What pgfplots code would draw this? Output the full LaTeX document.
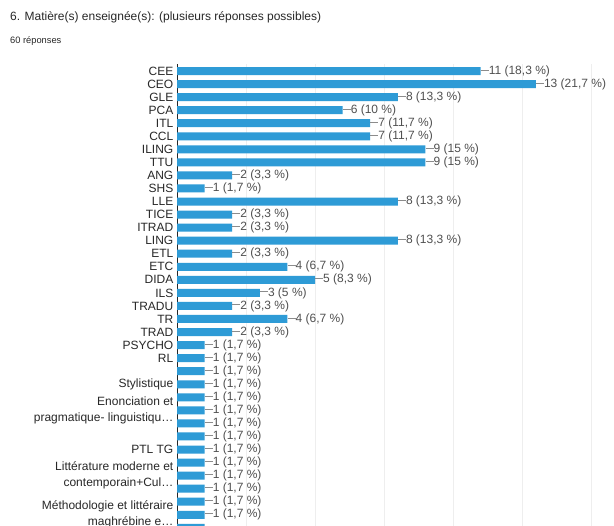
\documentclass[border=0pt]{standalone}
\usepackage{pgfplots}
\pgfplotsset{compat=1.18}
\usepackage{pgfplotstable}
\usepackage{fontspec}
\setmainfont{Liberation Sans}
\definecolor{barblue}{RGB}{46,155,214}
\definecolor{txt}{RGB}{40,40,40}
\definecolor{vlab}{RGB}{80,80,80}
\definecolor{gridc}{RGB}{238,238,238}

\pgfplotstableread[col sep=semicolon]{
idx;val;lab
0;11;11 (18,3 \%)
1;13;13 (21,7 \%)
2;8;8 (13,3 \%)
3;6;6 (10 \%)
4;7;7 (11,7 \%)
5;7;7 (11,7 \%)
6;9;9 (15 \%)
7;9;9 (15 \%)
8;2;2 (3,3 \%)
9;1;1 (1,7 \%)
10;8;8 (13,3 \%)
11;2;2 (3,3 \%)
12;2;2 (3,3 \%)
13;8;8 (13,3 \%)
14;2;2 (3,3 \%)
15;4;4 (6,7 \%)
16;5;5 (8,3 \%)
17;3;3 (5 \%)
18;2;2 (3,3 \%)
19;4;4 (6,7 \%)
20;2;2 (3,3 \%)
21;1;1 (1,7 \%)
22;1;1 (1,7 \%)
23;1;1 (1,7 \%)
24;1;1 (1,7 \%)
25;1;1 (1,7 \%)
26;1;1 (1,7 \%)
27;1;1 (1,7 \%)
28;1;1 (1,7 \%)
29;1;1 (1,7 \%)
30;1;1 (1,7 \%)
31;1;1 (1,7 \%)
32;1;1 (1,7 \%)
33;1;1 (1,7 \%)
34;1;1 (1,7 \%)
35;1;1 (1,7 \%)
}\datatable

\begin{document}
\begin{tikzpicture}
\clip (0pt,0pt) rectangle (614pt,526pt);
\fill[white] (0pt,0pt) rectangle (614pt,526pt);
\node[anchor=base west, font=\fontsize{12}{14}\selectfont, text=txt, inner sep=0pt] at (10pt,505pt) {6. Matière(s) enseignée(s): (plusieurs réponses possibles)};
\node[anchor=base west, font=\fontsize{9.3}{11}\selectfont, text=txt, inner sep=0pt] at (10pt,482.5pt) {60 réponses};
\begin{axis}[
  at={(177pt,461.5pt)}, anchor=north west,
  scale only axis, width=414pt, height=461.5pt,
  xmin=0, xmax=15, ymin=-0.5, ymax=34.86,
  enlargelimits=false,
  y dir=reverse,
  xbar, bar width=8pt,
  /pgf/number format/assume math mode=true,
  separate axis lines,
  axis x line*=bottom, axis y line*=left,
  x axis line style={draw=none},
  y axis line style={draw=black!85, line width=0.9pt},
  xtick={0,2.5,...,15}, xticklabels={},
  xmajorgrids, major grid style={gridc, line width=0.8pt},
  major tick length=0pt,
  ytick={0,1,2,3,4,5,6,7,8,9,10,11,12,13,14,15,16,17,18,19,20,21,22,24,26,29,31,34},
  yticklabels={CEE,CEO,GLE,PCA,ITL,CCL,ILING,TTU,ANG,SHS,LLE,TICE,ITRAD,LING,ETL,ETC,DIDA,ILS,TRADU,TR,TRAD,PSYCHO,RL,Stylistique,{Enonciation et\\pragmatique- linguistiqu…},PTL TG,{Littérature moderne et\\contemporain+Cul…},{Méthodologie et littéraire\\maghrébine e…}},
  yticklabel style={font=\fontsize{12}{16}\selectfont, text=txt, align=right, inner sep=0pt, xshift=-3.5pt},
]
\addplot[fill=barblue, draw=none,
  point meta=explicit symbolic,
  nodes near coords={\textcolor{black!45}{\rule[0.33em]{8pt}{0.6pt}}\pgfplotspointmeta},
  nodes near coords align={horizontal},
  every node near coord/.append style={font=\fontsize{12}{13}\selectfont, text=vlab, inner sep=0pt, anchor=west},
] table[x=val, y=idx, meta=lab] {\datatable};
\end{axis}
\end{tikzpicture}
\end{document}
